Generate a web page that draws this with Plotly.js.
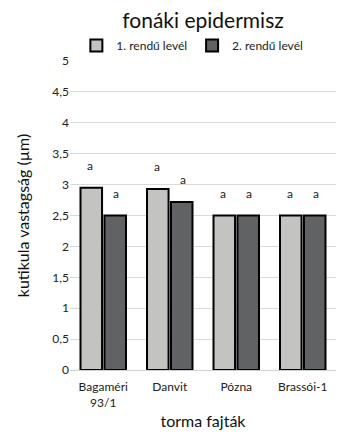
<!DOCTYPE html>
<html><head><meta charset="utf-8">
<script src="https://cdn.plot.ly/plotly-3.0.1.min.js"></script>
<style>html,body{margin:0;padding:0;background:#fff}#c{width:354px;height:436px}</style>
</head><body><div id="c"></div>
<script>
var categories = ["Bagaméri<br>93/1", "Danvit", "Pózna", "Brassói-1"];
var series1 = [2.95, 2.93, 2.5, 2.5];
var series2 = [2.5, 2.72, 2.5, 2.5];
var letters1 = ["a", "a", "a", "a"];
var letters2 = ["a", "a", "a", "a"];
var yTickVals = [0, 0.5, 1, 1.5, 2, 2.5, 3, 3.5, 4, 4.5, 5];
var yTickText = ["0", "0,5", "1", "1,5", "2", "2,5", "3", "3,5", "4", "4,5", "5"];

var font = "Lato, Open Sans, sans-serif";
var traces = [
  {type: "bar", name: "1. rendű levél", x: categories, y: series1,
   marker: {color: "#c3c3c1", line: {color: "#000", width: 2}}},
  {type: "bar", name: "2. rendű levél", x: categories, y: series2,
   marker: {color: "#606264", line: {color: "#000", width: 2}}}
];
var annotations = [];
categories.forEach(function (c, i) {
  annotations.push({x: c, y: series1[i], xref: "x", yref: "y", text: letters1[i],
    showarrow: false, xshift: -13, yshift: 13, yanchor: "bottom",
    font: {size: 12, color: "#222", family: font}});
  annotations.push({x: c, y: series2[i], xref: "x", yref: "y", text: letters2[i],
    showarrow: false, xshift: 13, yshift: 13, yanchor: "bottom",
    font: {size: 12, color: "#222", family: font}});
});
var layout = {
  width: 354, height: 436,
  margin: {l: 70, r: 18, t: 61, b: 66, autoexpand: false},
  paper_bgcolor: "#fff", plot_bgcolor: "#fff",
  font: {family: font, color: "#222"},
  title: {text: "fonáki epidermisz", font: {size: 21, color: "#111", family: font},
    x: 0.5, xanchor: "center", xref: "paper", y: 0.952, yanchor: "middle"},
  barmode: "group", bargap: 0.28, bargroupgap: 0.1,
  showlegend: true,
  legend: {orientation: "h", x: 0.46, xanchor: "center", y: 1.05, yanchor: "middle",
    font: {size: 12, color: "#222", family: font}, traceorder: "normal", itemwidth: 30},
  annotations: annotations,
  xaxis: {tickvals: categories, ticktext: categories, tickfont: {size: 12, color: "#222"},
    showline: true, linecolor: "#d0d0d0", linewidth: 1, ticks: "outside", ticklen: 6, tickcolor: "rgba(0,0,0,0)",
    title: {text: "torma fajták", font: {size: 16, color: "#111"}, standoff: 6}},
  yaxis: {range: [0, 5], tickvals: yTickVals, ticktext: yTickText,
    tickfont: {size: 12, color: "#222"}, showgrid: true, gridcolor: "#d9d9d9", gridwidth: 1,
    zeroline: false, ticks: "", showline: false, automargin: false,
    title: {text: "kutikula vastagság (µm)", font: {size: 16, color: "#111"}, standoff: 18}}
};
Plotly.newPlot("c", traces, layout, {displayModeBar: false, staticPlot: true});
</script></body></html>
